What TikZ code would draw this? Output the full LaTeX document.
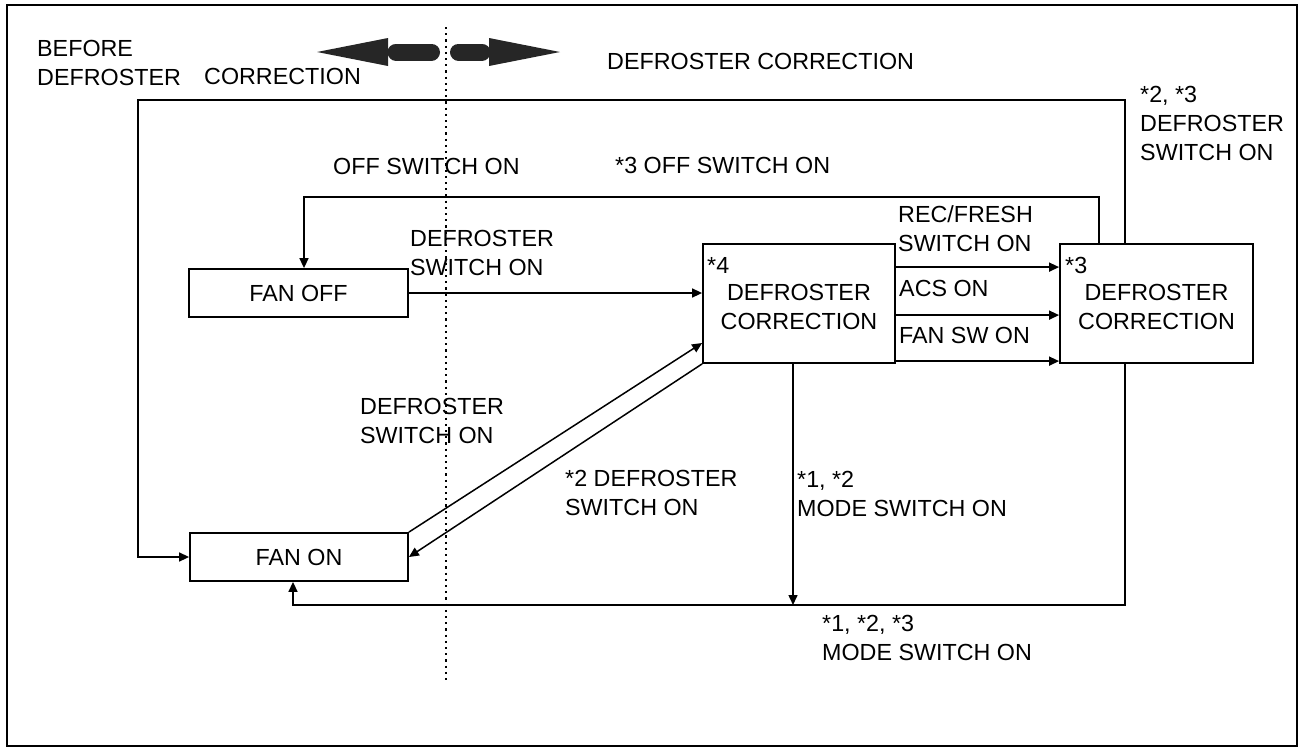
\documentclass[tikz,border=0pt]{standalone}
\usepackage{fontspec}
\setmainfont{Liberation Sans}
\usetikzlibrary{arrows.meta}

\begin{document}
\begin{tikzpicture}[x=1pt, y=-1pt, every node/.style={font=\fontsize{23.3}{29}\selectfont}, >={Triangle[length=10pt, width=9pt]},
	box/.style={draw, line width=1.8pt, inner sep=0pt},
	lbl/.style={anchor=north west, inner sep=0pt, align=left},
	conn/.style={line width=1.5pt},
	bigarrow/.style={black!85, line width=17pt, line cap=round}]
	\useasboundingbox (0,0) rectangle (1303,750);
	\draw[line width=1.8pt] (7,5) rectangle (1297,746);
	\draw[line width=2.2pt, dash pattern=on 2.2pt off 4pt] (446,27) -- (446,680);
	\draw[bigarrow] (396,52) -- (431.5,52);
	\fill[black!85] (388,38) -- (317,52) -- (388,66) -- cycle;
	\draw[bigarrow] (458.5,52) -- (482,52);
	\fill[black!85] (489,38) -- (560,52) -- (489,66) -- cycle;
	\node[lbl] at (37,40) {BEFORE\\DEFROSTER};
	\node[lbl] at (204,68) {CORRECTION};
	\node[lbl] at (607,53) {DEFROSTER CORRECTION};

	\node[box, minimum width=219pt, minimum height=48pt] (fanoff) at (298.5,293) {FAN OFF};
	\node[box, minimum width=218pt, minimum height=48pt] (fanon) at (299,557) {FAN ON};
	\node[box, minimum width=192pt, minimum height=119pt] (dcfour) at (799,303.5) {};
	\node[box, minimum width=193pt, minimum height=119pt] (dcthree) at (1156.5,303.5) {};
	\node[lbl] at (707,257) {*4};
	\node[lbl] at (1065,257) {*3};
	\node[anchor=north, inner sep=0pt, align=center] at ([yshift=-41pt]dcfour.north) {DEFROSTER\\CORRECTION};
	\node[anchor=north, inner sep=0pt, align=center] at ([yshift=-41pt]dcthree.north) {DEFROSTER\\CORRECTION};

	\coordinate (outerTL) at (138,100);
	\coordinate (outerTR) at (1125,100);
	\coordinate (innerTL) at (304,197);
	\coordinate (innerTR) at (1099,197);
	\coordinate (botL) at (293,605);
	\coordinate (botR) at (1125,605);

	\draw[conn, ->] (dcthree.north -| outerTR) -- (outerTR) -- (outerTL) |- (fanon.west);
	\draw[conn, ->] (dcthree.north -| innerTR) -- (innerTR) -- (innerTL) -- (innerTL |- fanoff.north);
	\draw[conn, ->] (fanoff.east) -- (fanoff.east -| dcfour.west);
	\foreach \dy in {24,72,118}
		\draw[conn, ->] ([yshift=-\dy pt]dcfour.north east) -- ([yshift=-\dy pt]dcthree.north west);
	\draw[conn, ->] (fanon.north east) -- ([yshift=-39.5pt]dcfour.west);
	\draw[conn, ->] (dcfour.south west) -- (fanon.east);
	\draw[conn, ->] ([xshift=-6pt]dcfour.south) -- ([xshift=-6pt]dcfour.south |- botR);
	\draw[conn, ->] (dcthree.south -| botR) -- (botR) -- (botL) -- (botL |- fanon.south);

	\node[lbl] at (1140,86.5) {*2, *3\\DEFROSTER\\SWITCH ON};
	\node[lbl] at (333,158) {OFF SWITCH ON};
	\node[lbl] at (615,157) {*3 OFF SWITCH ON};
	\node[lbl] at (410,230) {DEFROSTER\\SWITCH ON};
	\node[lbl] at (898,205) {REC/FRESH\\SWITCH ON};
	\node[lbl] at (899,280) {ACS ON};
	\node[lbl] at (899,327) {FAN SW ON};
	\node[lbl] at (360,398) {DEFROSTER\\SWITCH ON};
	\node[lbl] at (565,470) {*2 DEFROSTER\\SWITCH ON};
	\node[lbl] at (797,471) {*1, *2\\MODE SWITCH ON};
	\node[lbl] at (822,615) {*1, *2, *3\\MODE SWITCH ON};
\end{tikzpicture}
\end{document}
